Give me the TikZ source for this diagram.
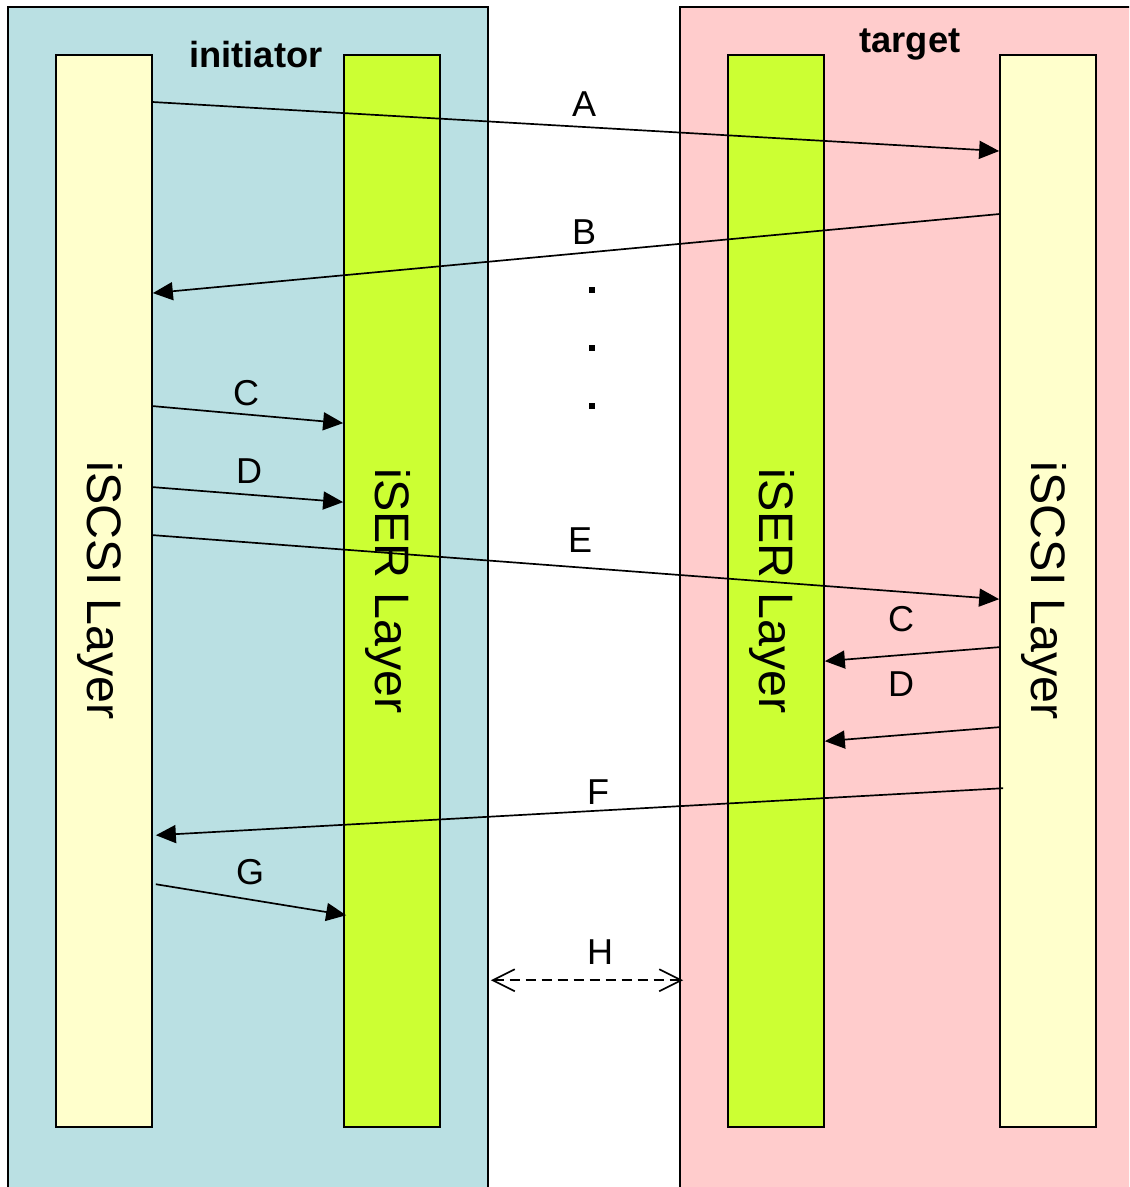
\documentclass[tikz,border=0pt]{standalone}
\usepackage{fontspec}
\setmainfont{Liberation Sans}
\usepackage{tikz}
\usetikzlibrary{arrows.meta,positioning}
\definecolor{initbg}{HTML}{BAE0E3}
\definecolor{targbg}{HTML}{FFCCCC}
\definecolor{scsicol}{HTML}{FFFFCC}
\definecolor{isercol}{HTML}{CCFF33}
\tikzstyle{arrow} = [line width=1.2pt,-{Triangle[length=0.5cm,width=0.45cm]}]
\tikzstyle{link} = [line width=1.2pt,dashed,dash pattern=on 0.25cm off 0.15cm,{Straight Barb[length=0.55cm,width=0.55cm]}-{Straight Barb[length=0.55cm,width=0.55cm]}]
\tikzstyle{lbl} = [font=\fontsize{25.6}{30}\selectfont, inner sep=0pt]
\tikzstyle{layer} = [rotate=-90, font=\fontsize{34.4}{40}\selectfont, inner sep=0pt]
\tikzstyle{dot} = [fill=black, rectangle, inner sep=0pt, minimum size=0.13cm]

\begin{document}
\begin{tikzpicture}[x=0.025cm,y=-0.025cm]
			\clip (0,0) rectangle (1129,1187);
			% sides
			\begin{scope}[every node/.style={draw, line width=1.2pt, rectangle, inner sep=0pt, minimum height=30.075cm}]
			\node[fill=initbg, minimum width=12cm, name=init] at (248,608.5) {};
			\node[fill=targbg, minimum width=11.75cm, name=targ] at (915,608.5) {};
			\end{scope}
			\node[font=\fontsize{25.8}{30}\selectfont\bfseries, anchor=base, name=inittitle] at (256,68) {initiator};
			\node[font=\fontsize{25.8}{30}\selectfont\bfseries, anchor=base, name=targtitle] at (910,53) {target};
			% layers
			\begin{scope}[every node/.style={draw, line width=1.2pt, rectangle, inner sep=0pt, minimum width=2.4cm, minimum height=26.8cm}]
			\node[fill=scsicol, name=iscsiI] at (104,591) {};
			\node[fill=isercol, name=iserI] at (392,591) {};
			\node[fill=isercol, name=iserT] at (776,591) {};
			\node[fill=scsicol, name=iscsiT] at (1048,591) {};
			\end{scope}
			\node[layer, name=iscsiItext] at ([xshift=-0.1cm]iscsiI.center) {iSCSI Layer};
			\node[layer, name=iserItext] at ([xshift=-0.1cm]iserI.center) {iSER Layer};
			\node[layer, name=iserTtext] at ([xshift=-0.1cm]iserT.center) {iSER Layer};
			\node[layer, name=iscsiTtext] at ([xshift=-0.1cm]iscsiT.center) {iSCSI Layer};
			% messages
			\draw[arrow] ([yshift=-1.2cm]iscsiI.north east) -- ([yshift=-2.425cm]iscsiT.north west);
			\draw[arrow] ([yshift=-4cm]iscsiT.north west) -- ([yshift=-5.975cm]iscsiI.north east);
			\draw[arrow] ([yshift=-8.8cm]iscsiI.north east) -- ([yshift=-9.225cm]iserI.north west);
			\draw[arrow] ([yshift=-10.825cm]iscsiI.north east) -- ([yshift=-11.2cm]iserI.north west);
			\draw[arrow] ([yshift=-12.025cm]iscsiI.north east) -- ([yshift=-13.625cm]iscsiT.north west);
			\draw[arrow] ([yshift=-14.825cm]iscsiT.north west) -- ([yshift=-15.175cm]iserT.north east);
			\draw[arrow] ([yshift=-16.825cm]iscsiT.north west) -- ([yshift=-17.175cm]iserT.north east);
			\draw[arrow] ([xshift=0.1cm,yshift=-18.35cm]iscsiT.north west) -- ([xshift=0.075cm,yshift=-19.525cm]iscsiI.north east);
			\draw[arrow] ([xshift=0.075cm,yshift=-20.75cm]iscsiI.north east) -- ([xshift=0.075cm,yshift=-21.525cm]iserI.north west);
			\draw[link] ([xshift=0.05cm,yshift=-24.35cm]init.north east) -- ([xshift=0.1cm,yshift=-24.35cm]targ.north west);
			% labels
			\node[lbl, name=la] at (584,104) {A};
			\node[lbl, name=lb] at (584,232) {B};
			\node[lbl, name=lc] at (246,393) {C};
			\node[lbl, name=ld] at (249,471) {D};
			\node[lbl, name=le] at (580,540) {E};
			\node[lbl, name=lc2] at (901,619) {C};
			\node[lbl, name=ld2] at (901,684) {D};
			\node[lbl, name=lf] at (598,792) {F};
			\node[lbl, name=lg] at (250,872) {G};
			\node[lbl, name=lh] at (600,952) {H};
			% ...
			\node[dot, name=dot1] at (592,290) {};
			\node[dot, name=dot2] at (592,348) {};
			\node[dot, name=dot3] at (592,406) {};
\end{tikzpicture}
\end{document}
